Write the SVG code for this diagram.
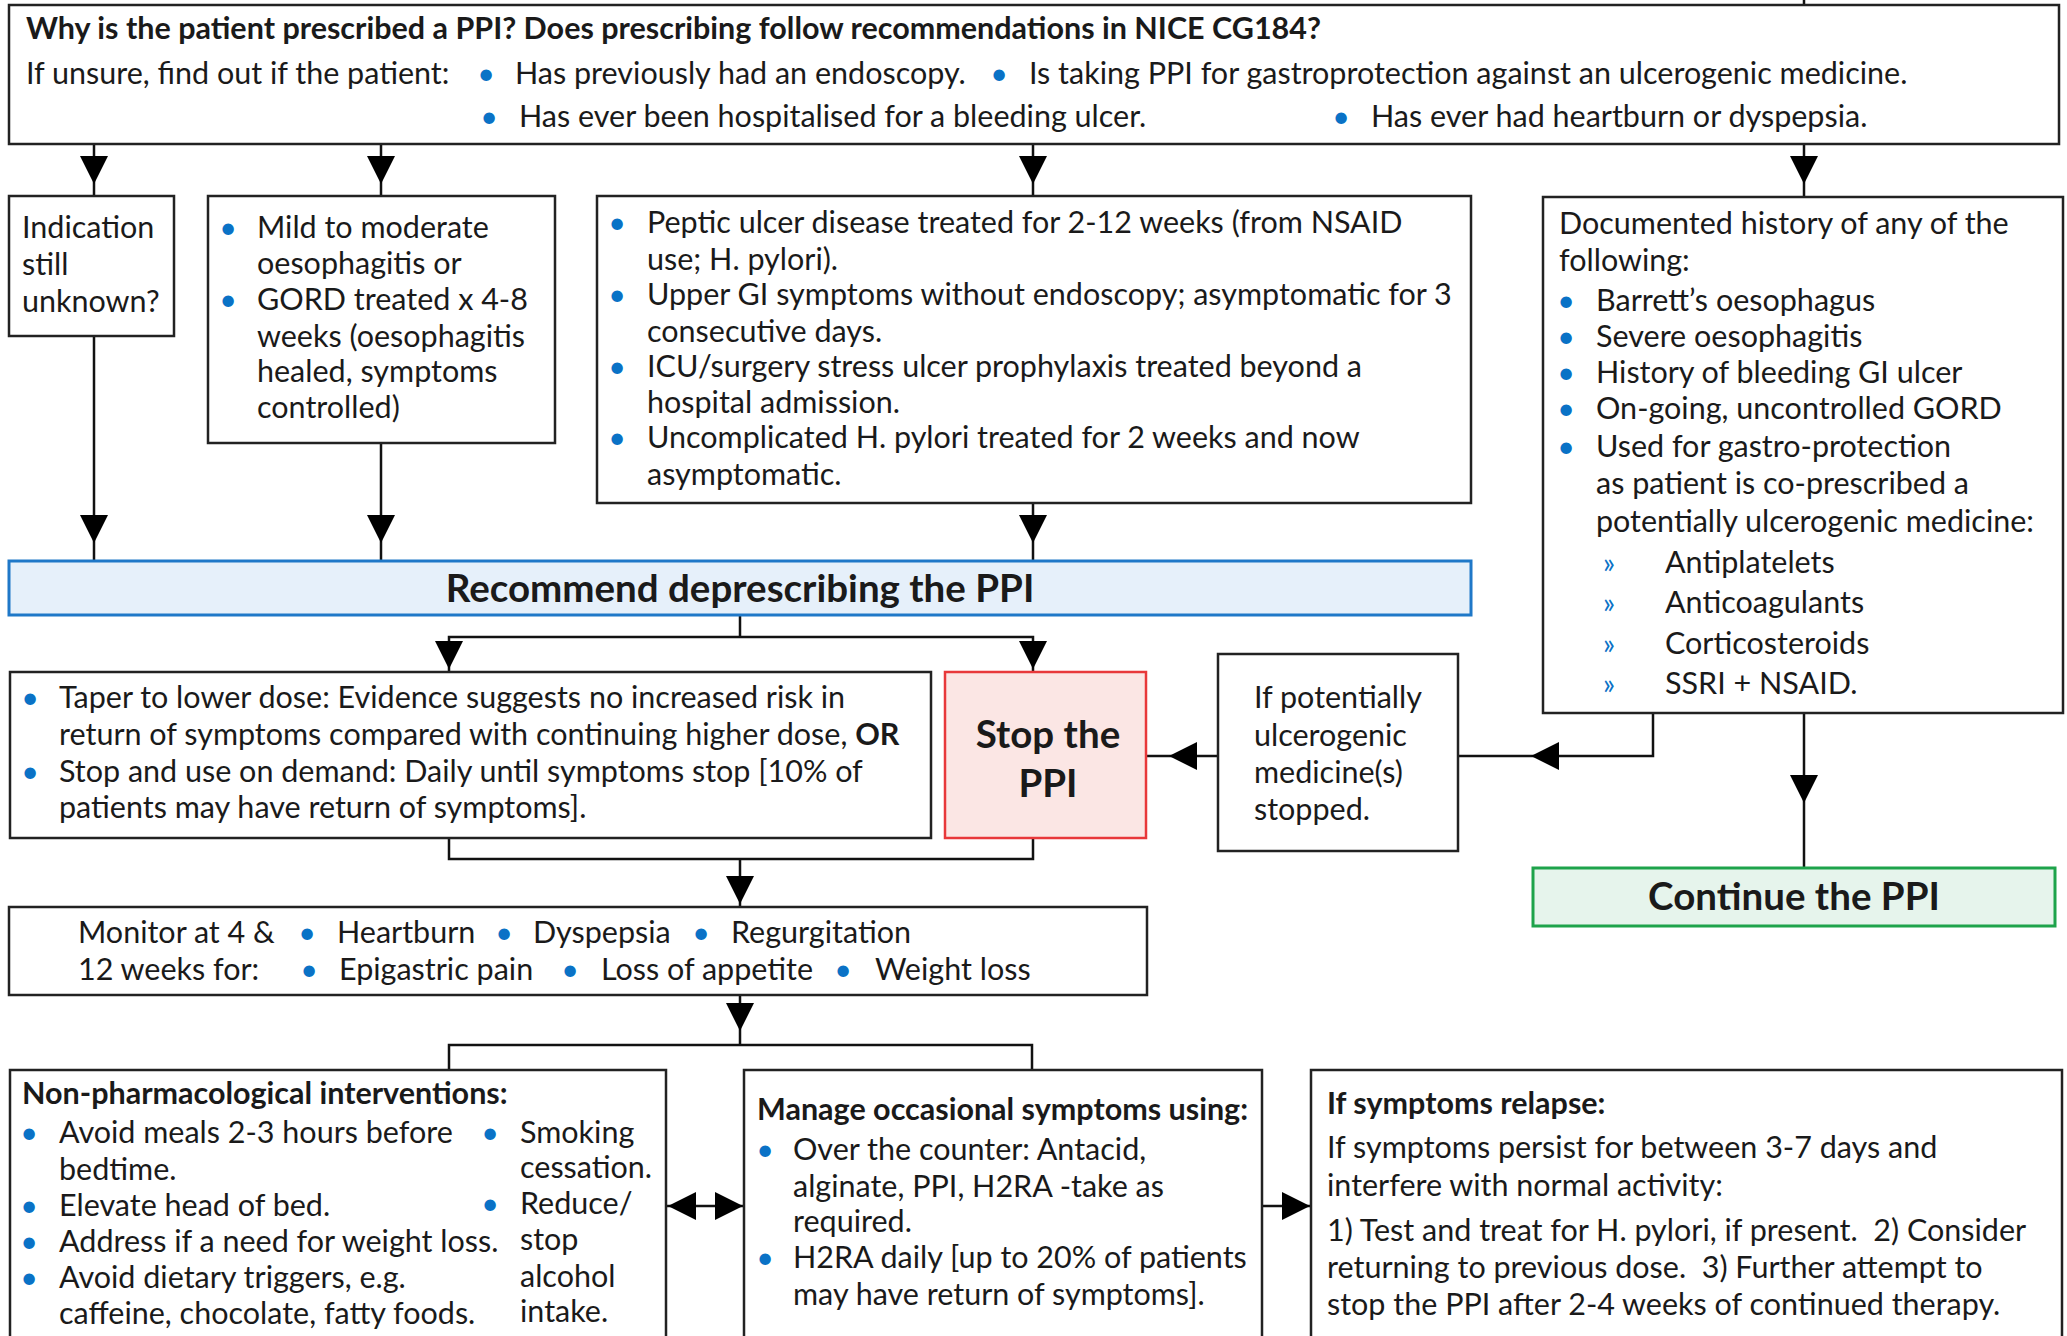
<svg xmlns="http://www.w3.org/2000/svg" xmlns:xlink="http://www.w3.org/1999/xlink" width="2067" height="1336" viewBox="0 0 2067 1336">
<style>
text{font-family:Lato,"Liberation Sans",sans-serif;font-size:30.5px;fill:#1a1a1a}
.b{font-weight:bold}
.big{font-weight:bold;font-size:38.5px}
.dot{fill:#0a72c6;text-anchor:middle}
.raq{fill:#0a72c6;font-size:28px;text-anchor:middle}
.pre{white-space:pre}
.box{fill:#fff;stroke:#222;stroke-width:2.5}
.blue{fill:#e6f0fa;stroke:#1f78c8;stroke-width:3}
.red{fill:#fbe6e4;stroke:#e8383a;stroke-width:2.5}
.green{fill:#e6f4ec;stroke:#1ea34b;stroke-width:3}
.ln{fill:none;stroke:#111;stroke-width:2.5}
.ah{fill:#000}
</style>
<defs>
<path id="ahd" d="M0,0 L-14,-28 L14,-28 Z"/>
</defs>

<g id="connectors">
<path class="ln" d="M1804,0 V5 M94,144 V196 M381,144 V196 M1033,144 V196 M1804,144 V196"/>
<path class="ln" d="M94,336 V561 M381,443 V561 M1033,503 V561"/>
<path class="ln" d="M740,615 V637 M449,672 V637 H1033 V672"/>
<path class="ln" d="M449,838 V859 H1033 V838 M740,859 V907"/>
<path class="ln" d="M740,995 V1045 M449,1070 V1045 H1032 V1070"/>
<path class="ln" d="M666,1206 H745 M1262,1206 H1311"/>
<path class="ln" d="M1653,713 V756 H1458 M1218,756 H1147 M1804,713 V868"/>
<g class="ah">
<use xlink:href="#ahd" transform="translate(94,184)"/>
<use xlink:href="#ahd" transform="translate(381,184)"/>
<use xlink:href="#ahd" transform="translate(1033,184)"/>
<use xlink:href="#ahd" transform="translate(1804,184)"/>
<use xlink:href="#ahd" transform="translate(94,543)"/>
<use xlink:href="#ahd" transform="translate(381,543)"/>
<use xlink:href="#ahd" transform="translate(1033,543)"/>
<use xlink:href="#ahd" transform="translate(449,669)"/>
<use xlink:href="#ahd" transform="translate(1033,669)"/>
<use xlink:href="#ahd" transform="translate(740,904)"/>
<use xlink:href="#ahd" transform="translate(740,1031)"/>
<use xlink:href="#ahd" transform="translate(668,1206) rotate(90)"/>
<use xlink:href="#ahd" transform="translate(743,1206) rotate(-90)"/>
<use xlink:href="#ahd" transform="translate(1310,1206) rotate(-90)"/>
<use xlink:href="#ahd" transform="translate(1531,756) rotate(90)"/>
<use xlink:href="#ahd" transform="translate(1169,756) rotate(90)"/>
<use xlink:href="#ahd" transform="translate(1804,803)"/>
</g>
</g>

<g id="n-question">
<rect class="box" x="9" y="5" width="2050" height="139"/>
<text class="b" x="26" y="39">Why is the patient prescribed a PPI? Does prescribing follow recommendations in NICE CG184?</text>
<text x="26" y="84">If unsure, find out if the patient:</text>
<text class="dot" x="486" y="84">•</text>
<text x="515" y="84">Has previously had an endoscopy.</text>
<text class="dot" x="999" y="84">•</text>
<text x="1029" y="84">Is taking PPI for gastroprotection against an ulcerogenic medicine.</text>
<text class="dot" x="489" y="127">•</text>
<text x="519" y="127">Has ever been hospitalised for a bleeding ulcer.</text>
<text class="dot" x="1341" y="127">•</text>
<text x="1371" y="127">Has ever had heartburn or dyspepsia.</text>
</g>

<g id="n-unknown">
<rect class="box" x="9" y="196" width="165" height="140"/>
<text x="22" y="238">Indication</text>
<text x="22" y="275">still</text>
<text x="22" y="312">unknown?</text>
</g>

<g id="n-gord">
<rect class="box" x="208" y="196" width="347" height="247"/>
<text class="dot" x="228" y="238">•</text>
<text x="257" y="238">Mild to moderate</text>
<text x="257" y="274">oesophagitis or</text>
<text class="dot" x="228" y="310">•</text>
<text x="257" y="310">GORD treated x 4-8</text>
<text x="257" y="347">weeks (oesophagitis</text>
<text x="257" y="382">healed, symptoms</text>
<text x="257" y="418">controlled)</text>
</g>

<g id="n-peptic">
<rect class="box" x="597" y="196" width="874" height="307"/>
<text class="dot" x="617" y="233">•</text>
<text x="647" y="233">Peptic ulcer disease treated for 2-12 weeks (from NSAID</text>
<text x="647" y="270">use; H. pylori).</text>
<text class="dot" x="617" y="305">•</text>
<text x="647" y="305">Upper GI symptoms without endoscopy; asymptomatic for 3</text>
<text x="647" y="342">consecutive days.</text>
<text class="dot" x="617" y="377">•</text>
<text x="647" y="377">ICU/surgery stress ulcer prophylaxis treated beyond a</text>
<text x="647" y="413">hospital admission.</text>
<text class="dot" x="617" y="448">•</text>
<text x="647" y="448">Uncomplicated H. pylori treated for 2 weeks and now</text>
<text x="647" y="485">asymptomatic.</text>
</g>

<g id="n-history">
<rect class="box" x="1543" y="197" width="520" height="516"/>
<text x="1559" y="234">Documented history of any of the</text>
<text x="1559" y="271">following:</text>
<text class="dot" x="1566" y="311">•</text>
<text x="1596" y="311">Barrett’s oesophagus</text>
<text class="dot" x="1566" y="347">•</text>
<text x="1596" y="347">Severe oesophagitis</text>
<text class="dot" x="1566" y="383">•</text>
<text x="1596" y="383">History of bleeding GI ulcer</text>
<text class="dot" x="1566" y="419">•</text>
<text x="1596" y="419">On-going, uncontrolled GORD</text>
<text class="dot" x="1566" y="457">•</text>
<text x="1596" y="457">Used for gastro-protection</text>
<text x="1596" y="494">as patient is co-prescribed a</text>
<text x="1596" y="532">potentially ulcerogenic medicine:</text>
<text class="raq" x="1609" y="573">»</text>
<text x="1665" y="573">Antiplatelets</text>
<text class="raq" x="1609" y="613">»</text>
<text x="1665" y="613">Anticoagulants</text>
<text class="raq" x="1609" y="654">»</text>
<text x="1665" y="654">Corticosteroids</text>
<text class="raq" x="1609" y="694">»</text>
<text x="1665" y="694">SSRI + NSAID.</text>
</g>

<g id="n-recommend">
<rect class="blue" x="9" y="561" width="1462" height="54"/>
<text class="big" x="740" y="602" text-anchor="middle">Recommend deprescribing the PPI</text>
</g>

<g id="n-taper">
<rect class="box" x="10" y="672" width="921" height="166"/>
<text class="dot" x="30" y="708">•</text>
<text x="59" y="708">Taper to lower dose: Evidence suggests no increased risk in</text>
<text x="59" y="745">return of symptoms compared with continuing higher dose, <tspan class="b">OR</tspan></text>
<text class="dot" x="30" y="782">•</text>
<text x="59" y="782">Stop and use on demand: Daily until symptoms stop [10% of</text>
<text x="59" y="818">patients may have return of symptoms].</text>
</g>

<g id="n-stop">
<rect class="red" x="945" y="672" width="201" height="166"/>
<text class="big" x="1048" y="748" text-anchor="middle">Stop the</text>
<text class="big" x="1048" y="797" text-anchor="middle">PPI</text>
</g>

<g id="n-ifstopped">
<rect class="box" x="1218" y="654" width="240" height="197"/>
<text x="1254" y="708">If potentially</text>
<text x="1254" y="746">ulcerogenic</text>
<text x="1254" y="783">medicine(s)</text>
<text x="1254" y="820">stopped.</text>
</g>

<g id="n-continue">
<rect class="green" x="1533" y="868" width="522" height="58"/>
<text class="big" x="1794" y="910" text-anchor="middle">Continue the PPI</text>
</g>

<g id="n-monitor">
<rect class="box" x="9" y="907" width="1138" height="88"/>
<text x="78" y="943">Monitor at 4 &amp;</text>
<text x="78" y="980">12 weeks for:</text>
<text class="dot" x="307" y="943">•</text>
<text x="337" y="943">Heartburn</text>
<text class="dot" x="504" y="943">•</text>
<text x="533" y="943">Dyspepsia</text>
<text class="dot" x="701" y="943">•</text>
<text x="731" y="943">Regurgitation</text>
<text class="dot" x="309" y="980">•</text>
<text x="339" y="980">Epigastric pain</text>
<text class="dot" x="570" y="980">•</text>
<text x="601" y="980">Loss of appetite</text>
<text class="dot" x="843" y="980">•</text>
<text x="875" y="980">Weight loss</text>
</g>

<g id="n-nonpharm">
<rect class="box" x="10" y="1070" width="656" height="290"/>
<text class="b" x="22" y="1104">Non-pharmacological interventions:</text>
<text class="dot" x="29" y="1143">•</text>
<text x="59" y="1143">Avoid meals 2-3 hours before</text>
<text x="59" y="1180">bedtime.</text>
<text class="dot" x="29" y="1216">•</text>
<text x="59" y="1216">Elevate head of bed.</text>
<text class="dot" x="29" y="1252">•</text>
<text x="59" y="1252">Address if a need for weight loss.</text>
<text class="dot" x="29" y="1288">•</text>
<text x="59" y="1288">Avoid dietary triggers, e.g.</text>
<text x="59" y="1324">caffeine, chocolate, fatty foods.</text>
<text class="dot" x="490" y="1143">•</text>
<text x="520" y="1143">Smoking</text>
<text x="520" y="1178">cessation.</text>
<text class="dot" x="490" y="1214">•</text>
<text x="520" y="1214">Reduce/</text>
<text x="520" y="1250">stop</text>
<text x="520" y="1287">alcohol</text>
<text x="520" y="1322">intake.</text>
</g>

<g id="n-manage">
<rect class="box" x="744" y="1070" width="518" height="290"/>
<text class="b" x="757" y="1120">Manage occasional symptoms using:</text>
<text class="dot" x="765" y="1160">•</text>
<text x="793" y="1160">Over the counter: Antacid,</text>
<text x="793" y="1197">alginate, PPI, H2RA -take as</text>
<text x="793" y="1232">required.</text>
<text class="dot" x="765" y="1268">•</text>
<text x="793" y="1268">H2RA daily [up to 20% of patients</text>
<text x="793" y="1305">may have return of symptoms].</text>
</g>

<g id="n-relapse">
<rect class="box" x="1311" y="1070" width="751" height="290"/>
<text class="b" x="1327" y="1114">If symptoms relapse:</text>
<text x="1327" y="1158">If symptoms persist for between 3-7 days and</text>
<text x="1327" y="1196">interfere with normal activity:</text>
<text class="pre" x="1327" y="1241">1) Test and treat for H. pylori, if present.  2) Consider</text>
<text class="pre" x="1327" y="1278">returning to previous dose.  3) Further attempt to</text>
<text x="1327" y="1315">stop the PPI after 2-4 weeks of continued therapy.</text>
</g>
</svg>
